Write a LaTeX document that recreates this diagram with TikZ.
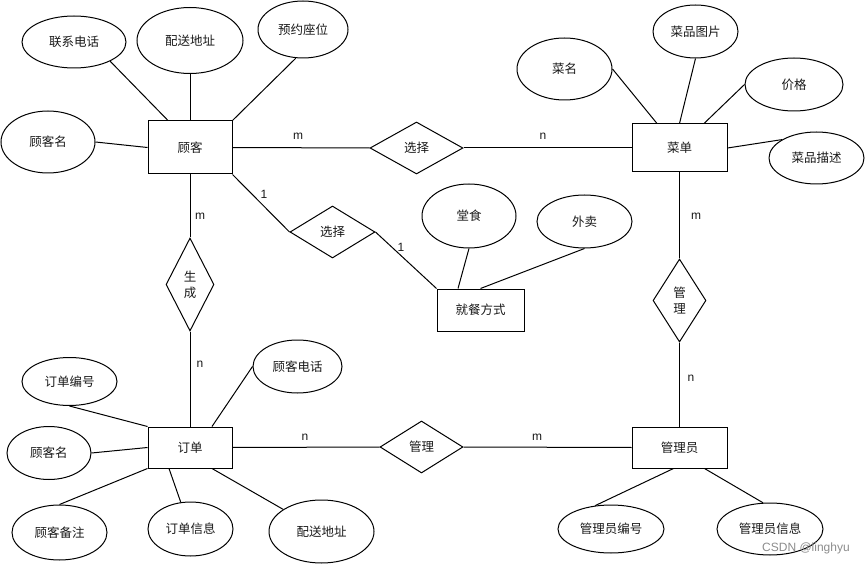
\documentclass[tikz,border=0pt]{standalone}
\usepackage{fontspec}
\setmainfont{Liberation Sans}
\newfontfamily\cjk{Noto Sans CJK SC}
\usetikzlibrary{shapes.geometric}
\begin{document}
\begin{tikzpicture}[x=1pt,y=-1pt,
  every node/.style={font=\cjk\fontsize{12.5}{16}\selectfont, text=black!90},
  ent/.style={draw, rectangle, inner sep=0pt, line width=1pt},
  attr/.style={draw, ellipse, inner sep=0pt, line width=1pt},
  rel/.style={draw, diamond, inner sep=0pt, line width=1pt, align=center},
  card/.style={font=\fontsize{12}{14}\selectfont, inner sep=0pt},
  link/.style={line width=1pt}]
\useasboundingbox (0,0) rectangle (865,564);

% entities
\node[ent, minimum width=84pt, minimum height=53pt] (kh) at (190,147.5) {顾客};
\node[ent, minimum width=95pt, minimum height=48pt] (cd) at (679.5,148) {菜单};
\node[ent, minimum width=87pt, minimum height=42pt] (jcfs) at (480.5,310) {就餐方式};
\node[ent, minimum width=84pt, minimum height=41pt] (dd) at (190,447.5) {订单};
\node[ent, minimum width=95pt, minimum height=41pt] (gly) at (679.5,447.5) {管理员};

% relations
\node[rel, minimum width=93pt, minimum height=52pt] (xz1) at (416.5,148) {选择};
\node[rel, minimum width=85pt, minimum height=52pt] (xz2) at (332.5,232) {选择};
\node[rel, minimum width=48pt, minimum height=93pt] (sc) at (190,284.5) {生\\成};
\node[rel, minimum width=53pt, minimum height=83pt] (gl1) at (679.5,300.5) {管\\理};
\node[rel, minimum width=83pt, minimum height=52pt] (gl2) at (421.5,447) {管理};

% attributes
\node[attr, minimum width=104pt, minimum height=52pt] (lxdh) at (74,42) {联系电话};
\node[attr, minimum width=106pt, minimum height=66pt] (psdz1) at (190,40.5) {配送地址};
\node[attr, minimum width=90pt, minimum height=57pt] (yyzw) at (303,29.5) {预约座位};
\node[attr, minimum width=94pt, minimum height=62pt] (khm1) at (48,142) {顾客名};
\node[attr, minimum width=95pt, minimum height=62pt] (cm) at (564.5,69) {菜名};
\node[attr, minimum width=85pt, minimum height=53pt] (cptp) at (695.5,31.5) {菜品图片};
\node[attr, minimum width=98pt, minimum height=53pt] (jg) at (794,84.5) {价格};
\node[attr, minimum width=95pt, minimum height=52pt] (cpms) at (816.5,158) {菜品描述};
\node[attr, minimum width=94pt, minimum height=64pt] (ts) at (469,216) {堂食};
\node[attr, minimum width=95pt, minimum height=53pt] (wm) at (584.5,221.5) {外卖};
\node[attr, minimum width=95pt, minimum height=48pt] (ddbh) at (69.5,381.5) {订单编号};
\node[attr, minimum width=89pt, minimum height=53pt] (khdh) at (297.5,366.5) {顾客电话};
\node[attr, minimum width=84pt, minimum height=53pt] (khm2) at (49,453) {顾客名};
\node[attr, minimum width=95pt, minimum height=55pt] (khbz) at (59.5,532.5) {顾客备注};
\node[attr, minimum width=85pt, minimum height=54pt] (ddxx) at (190.5,529) {订单信息};
\node[attr, minimum width=105pt, minimum height=63pt] (psdz2) at (321.5,531.5) {配送地址};
\node[attr, minimum width=106pt, minimum height=48pt] (glybh) at (611,529) {管理员编号};
\node[attr, minimum width=106pt, minimum height=52pt] (glyxx) at (770,529) {管理员信息};

% connectors
\draw[link] (lxdh.-28) -- ([xshift=-22pt]kh.north);
\draw[link] (psdz1.south) -- (kh.north);
\draw[link] (yyzw.-104) -- (kh.north east);
\draw[link] (khm1.east) -- (kh.west);
\draw[link] (kh.east) -- (xz1.west);
\draw[link] (xz1.east) -- (cd.west);
\draw[link] (kh.south east) -- (xz2.west);
\draw[link] (xz2.east) -- (jcfs.north west);
\draw[link] (kh.south) -- (sc.north);
\draw[link] (sc.south) -- (dd.north);
\draw[link] (cd.south) -- (gl1.north);
\draw[link] (gl1.south) -- (gly.north);
\draw[link] (dd.east) -- (gl2.west);
\draw[link] (gl2.east) -- (gly.west);
\draw[link] (cm.east) -- ([xshift=-22.5pt]cd.north);
\draw[link] (cptp.south) -- (cd.north);
\draw[link] (jg.west) -- ([xshift=24.5pt]cd.north);
\draw[link] (cpms.152) -- (cd.east);
\draw[link] (ts.south) -- ([xshift=-22.5pt]jcfs.north);
\draw[link] (wm.south) -- (jcfs.north);
\draw[link] (ddbh.south) -- (dd.north west);
\draw[link] (khm2.east) -- (dd.west);
\draw[link] (khbz.north) -- (dd.south west);
\draw[link] (ddxx.110) -- ([xshift=-21pt]dd.south);
\draw[link] (psdz2.150) -- ([xshift=22pt]dd.south);
\draw[link] (khdh.west) -- ([xshift=22pt]dd.north);
\draw[link] (glybh.124) -- ([xshift=-6pt]gly.south);
\draw[link] (glyxx.105) -- ([xshift=25pt]gly.south);

% cardinalities
\node[card] (c1) at (298,136) {m};
\node[card] (c2) at (543,136) {n};
\node[card] (c3) at (264,194) {1};
\node[card] (c4) at (401,247) {1};
\node[card] (c5) at (200,216) {m};
\node[card] (c6) at (200,364) {n};
\node[card] (c7) at (696,216) {m};
\node[card] (c8) at (691,378) {n};
\node[card] (c9) at (305,437) {n};
\node[card] (c10) at (537,437) {m};

% watermark
\node[font=\fontsize{12}{14}\selectfont, text=black!45, inner sep=0pt] (wmk) at (806,548) {CSDN @linghyu};
\end{tikzpicture}
\end{document}
